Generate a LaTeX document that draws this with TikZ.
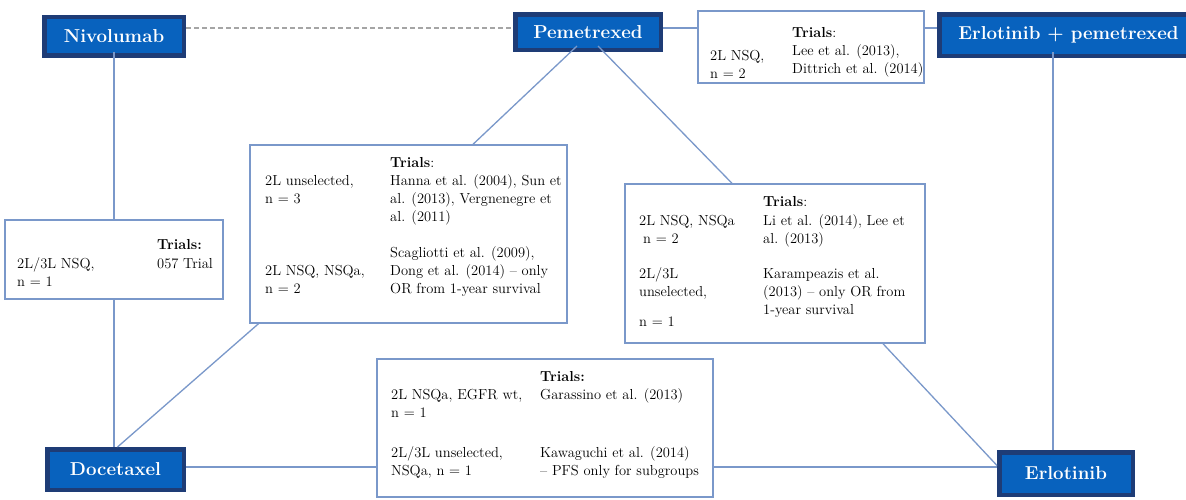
\documentclass[tikz,border=0pt]{standalone}
\usepackage{xcolor}
\definecolor{linec}{RGB}{122,152,202}
\definecolor{dashc}{RGB}{165,165,165}
\definecolor{bluefill}{RGB}{8,98,190}
\definecolor{blueborder}{RGB}{30,60,118}
\tikzset{
  drug/.style={draw=blueborder, line width=4.5pt, fill=bluefill, inner sep=0pt,
    text=white, font=\fontsize{18.7}{22}\selectfont\bfseries},
  trialbox/.style={draw=linec, line width=1.4pt, fill=white, inner sep=0pt},
  txt/.style={inner sep=0pt, anchor=base west, font=\fontsize{14.5}{18}\selectfont, text=black},
  conn/.style={draw=linec, line width=1.3pt},
  dconn/.style={draw=dashc, line width=1.3pt, dash pattern=on 5pt off 3pt}
}
\newcommand\mytxt[4]{\node[txt] (#1) at (#2,#3) {#4};}
\begin{document}
\begin{tikzpicture}[x=1pt,y=-1pt]
\clip (0,0) rectangle (1186,499);
\fill[white] (0,0) rectangle (1186,499);
% drug nodes
\node[drug, minimum width=139.5pt, minimum height=38.5pt] (niv) at (114,36) {Nivolumab};
\node[drug, minimum width=145.5pt, minimum height=35.5pt] (pem) at (588,32) {Pemetrexed};
\node[drug, minimum width=258.5pt, minimum height=41.5pt] (ep) at (1068.5,35) {Erlotinib + pemetrexed};
\node[drug, minimum width=136.5pt, minimum height=40.5pt] (doc) at (115.5,469.5) {Docetaxel};
\node[drug, minimum width=133.5pt, minimum height=42.5pt] (erl) at (1066,473.5) {Erlotinib};
% trial boxes
\node[trialbox, minimum width=226pt, minimum height=72pt] (tbox) at (811,47) {};
\node[trialbox, minimum width=218pt, minimum height=79pt] (lbox) at (114,259.5) {};
\node[trialbox, minimum width=317pt, minimum height=178pt] (mbox) at (408.5,234) {};
\node[trialbox, minimum width=300pt, minimum height=159pt] (rbox) at (775,263.5) {};
\node[trialbox, minimum width=336pt, minimum height=138pt] (bbox) at (545,428) {};
% connectors
\draw[dconn] ([yshift=8pt]niv.east) -- ([yshift=8pt]niv.east -| pem.west);
\draw[conn] ([yshift=4pt]pem.east) -- ([yshift=4pt]pem.east -| tbox.west);
\draw[conn] ([yshift=19pt]tbox.east) -- ([yshift=19pt]tbox.east -| ep.west);
\draw[conn] ([yshift=6pt]niv.south) -- (niv.south |- lbox.north);
\draw[conn] (lbox.south) -- (lbox.south |- doc.north);
\draw[conn] ([xshift=-150pt]mbox.south) -- ([xshift=2pt]doc.north);
\draw[conn] ([xshift=-11pt,yshift=6pt]pem.south) -- ([xshift=64.5pt]mbox.north);
\draw[conn] ([xshift=10pt,yshift=6pt]pem.south) -- ([xshift=-43pt]rbox.north);
\draw[conn] ([xshift=108pt]rbox.south) -- ([yshift=8pt]erl.west);
\draw[conn] ([yshift=2.5pt]doc.east) -- ([yshift=2.5pt]doc.east -| bbox.west);
\draw[conn] ([yshift=-39pt]bbox.east) -- ([yshift=-39pt]bbox.east -| erl.west);
\draw[conn] ([xshift=-15.5pt,yshift=6pt]ep.south) -- ([xshift=-15.5pt]ep.south |- erl.north);
% top box text
\mytxt{t1}{792}{37}{\textbf{Trials}:}
\mytxt{t2}{792}{55}{Lee et al. (2013),}
\mytxt{t3}{792}{73}{Dittrich et al. (2014)}
\mytxt{t4}{710}{60}{2L NSQ,}
\mytxt{t5}{710}{78}{n = 2}
% left box text
\mytxt{l1}{157}{249}{\textbf{Trials:}}
\mytxt{l2}{17}{268}{2L/3L NSQ,}
\mytxt{l3}{157}{268}{057 Trial}
\mytxt{l4}{17}{286}{n = 1}
% middle box text
\mytxt{m1}{390}{167}{\textbf{Trials}:}
\mytxt{m2}{265}{185}{2L unselected,}
\mytxt{m3}{390}{185}{Hanna et al. (2004), Sun et}
\mytxt{m4}{265}{203}{n = 3}
\mytxt{m5}{390}{203}{al. (2013), Vergnenegre et}
\mytxt{m6}{390}{221}{al. (2011)}
\mytxt{m7}{390}{257}{Scagliotti et al. (2009),}
\mytxt{m8}{265}{275}{2L NSQ, NSQa,}
\mytxt{m9}{390}{275}{Dong et al. (2014) -- only}
\mytxt{m10}{265}{293}{n = 2}
\mytxt{m11}{390}{293}{OR from 1-year survival}
% right box text
\mytxt{r1}{763}{206}{\textbf{Trials}:}
\mytxt{r2}{639}{225}{2L NSQ, NSQa}
\mytxt{r3}{763}{225}{Li et al. (2014), Lee et}
\mytxt{r4}{643}{243}{n = 2}
\mytxt{r5}{763}{243}{al. (2013)}
\mytxt{r6}{639}{278}{2L/3L}
\mytxt{r7}{763}{278}{Karampeazis et al.}
\mytxt{r8}{639}{296}{unselected,}
\mytxt{r9}{763}{296}{(2013) -- only OR from}
\mytxt{r10}{763}{314}{1-year survival}
\mytxt{r11}{639}{326}{n = 1}
% bottom box text
\mytxt{b1}{540}{381}{\textbf{Trials:}}
\mytxt{b2}{391}{399}{2L NSQa, EGFR wt,}
\mytxt{b3}{540}{399}{Garassino et al. (2013)}
\mytxt{b4}{391}{417}{n = 1}
\mytxt{b5}{391}{457}{2L/3L unselected,}
\mytxt{b6}{540}{457}{Kawaguchi et al. (2014)}
\mytxt{b7}{391}{475}{NSQa, n = 1}
\mytxt{b8}{540}{475}{-- PFS only for subgroups}
\end{tikzpicture}
\end{document}
